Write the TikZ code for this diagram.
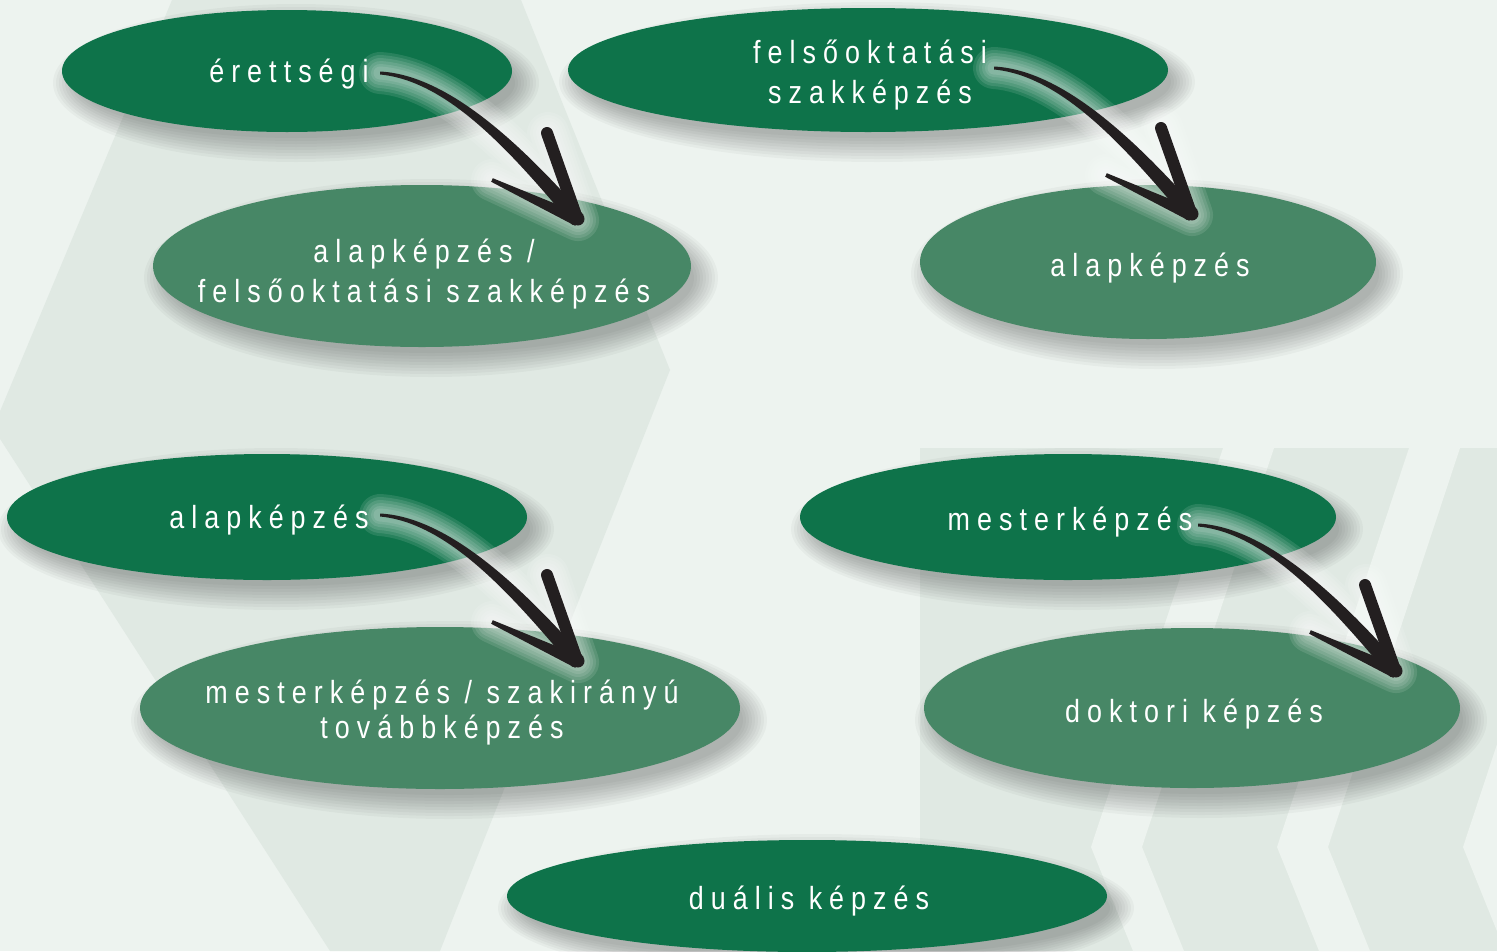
\documentclass[tikz,border=0pt]{standalone}
\usepackage{fontspec}
\newfontfamily\lblfont[FakeStretch=0.84,LetterSpace=22]{Liberation Sans}
\usetikzlibrary{shapes.geometric,calc}
\definecolor{bgbase}{HTML}{EDF3EF}
\definecolor{bgdark}{HTML}{E0E9E3}
\definecolor{dkgreen}{HTML}{0E734A}
\definecolor{ltgreen}{HTML}{478766}
\definecolor{arrowblk}{HTML}{231F20}
\newcommand\twolines[2]{\begin{tabular}[t]{@{}c@{}}#1\\#2\end{tabular}}
\tikzset{
  blob/.style={ellipse, inner sep=0pt},
  darkblob/.style={blob, fill=dkgreen},
  lightblob/.style={blob, fill=ltgreen},
  lbl/.style={text=white, inner sep=0pt, anchor=base,
    font=\lblfont\fontsize{32}{40}\selectfont},
  pics/bigarrow/.style={code={
    \foreach \w in {42,36,30,24,18,13}{
      \draw[white, opacity=0.11, line width=\w pt, line cap=round, line join=round]
        (0,0) .. controls (70,5) and (140,80) .. (198,147)
        (168,60) -- (198,147) -- (112,107);
    }
    \fill[arrowblk] (0,-1.5) .. controls (70,2) and (144.9,75.75) .. (203.7,142.1)
      -- (192.3,151.9) .. controls (135.1,84.3) and (70,8) .. (0,1.5) -- cycle;
    \draw[arrowblk, line width=12pt, line cap=round] (167,60) -- (197,145);
    \fill[arrowblk] (111.2,108.8) -- (195.3,152.9) -- (200.7,141.1) -- (112.8,105.2) -- cycle;
    \fill[arrowblk] (198,146) circle [radius=6.5pt];
  }}
}
\newcommand\ellshadow[4]{%
  \foreach \b in {18,15,12,9,6,3,0,-3,-6}{
    \fill[black, opacity=0.032] (#1+9,#2+12) ellipse [x radius={(#3+\b)*1pt}, y radius={(#4+\b)*1pt}];
  }}
\begin{document}
\begin{tikzpicture}[x=1pt,y=-1pt]
\useasboundingbox (0,0) rectangle (1497,951);
\clip (0,0) rectangle (1497,951);
% background
\fill[bgbase] (0,0) rectangle (1497,951);
\fill[bgdark] (172,0) -- (521,0) -- (670,370) -- (440,951) -- (330,951) -- (-7,428) -- cycle;
\fill[bgdark] (920,448) rectangle (1497,951);
\foreach \xk in {1091,1277,1463}{
  \fill[bgbase] (\xk,847) -- (\xk+132,448) -- (\xk+183,448) -- (\xk+51,847)
    -- (\xk+93,951) -- (\xk+42,951) -- cycle;
}
% shadows
\ellshadow{287}{71}{225}{61}
\ellshadow{868}{70}{300}{62}
\ellshadow{422}{266}{269}{81}
\ellshadow{1148}{262}{228}{77}
\ellshadow{267}{517}{260}{63}
\ellshadow{1068}{517}{268}{63}
\ellshadow{440}{708}{300}{81}
\ellshadow{1192}{708}{268}{80}
\ellshadow{807}{896}{300}{56}
% ellipses
\node[darkblob, minimum width=450pt, minimum height=122pt] (erett) at (287,71) {};
\node[darkblob, minimum width=600pt, minimum height=124pt] (foszk) at (868,70) {};
\node[lightblob, minimum width=538pt, minimum height=162pt] (alapfo) at (422,266) {};
\node[lightblob, minimum width=456pt, minimum height=154pt] (alapR) at (1148,262) {};
\node[darkblob, minimum width=520pt, minimum height=126pt] (alapL) at (267,517) {};
\node[darkblob, minimum width=536pt, minimum height=126pt] (mesterR) at (1068,517) {};
\node[lightblob, minimum width=600pt, minimum height=162pt] (mesterL) at (440,708) {};
\node[lightblob, minimum width=536pt, minimum height=160pt] (doktor) at (1192,708) {};
\node[darkblob, minimum width=600pt, minimum height=112pt] (dual) at (807,896) {};
% labels
\node[lbl] (erett-t) at ($(erett.center)+(2,11)$) {érettségi};
\node[lbl] (foszk-t) at ($(foszk.center)+(2,-7)$) {\twolines{felsőoktatási}{szakképzés}};
\node[lbl] (alapfo-t) at ($(alapfo.center)+(2,-4)$) {\twolines{alapképzés /}{felsőoktatási szakképzés}};
\node[lbl] (alapR-t) at ($(alapR.center)+(2,14)$) {alapképzés};
\node[lbl] (alapL-t) at ($(alapL.center)+(2,11)$) {alapképzés};
\node[lbl] (mesterR-t) at ($(mesterR.center)+(2,13)$) {mesterképzés};
\node[lbl, font=\lblfont\fontsize{32}{35}\selectfont] (mesterL-t) at ($(mesterL.center)+(2,-5)$) {\twolines{mesterképzés / szakirányú}{továbbképzés}};
\node[lbl] (doktor-t) at ($(doktor.center)+(2,14)$) {doktori képzés};
\node[lbl] (dual-t) at ($(dual.center)+(2,13)$) {duális képzés};
% arrows
\coordinate (s1) at ($(erett.center)+(93,2)$);
\coordinate (s2) at ($(foszk.center)+(126,-2)$);
\coordinate (s3) at ($(alapL.center)+(113,-2)$);
\coordinate (s4) at ($(mesterR.center)+(130,8)$);
\pic at (s1) {bigarrow};
\pic at (s2) {bigarrow};
\pic at (s3) {bigarrow};
\pic at (s4) {bigarrow};
\end{tikzpicture}
\end{document}
